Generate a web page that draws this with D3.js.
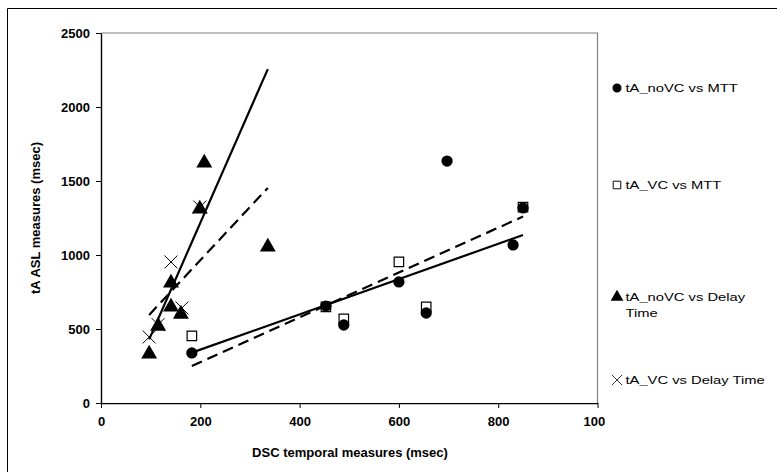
<!DOCTYPE html>
<html>
  <head>
    <meta charset="utf-8" />
    <title>tA ASL vs DSC</title>
    <style>
      body {
        margin: 0;
        background: #fff;
      }
      svg text {
        font-family: Arial, "Liberation Sans", sans-serif;
      }
    </style>
    <script src="https://d3js.org/d3.v7.min.js"></script>
  </head>
  <body>
    <div id="chart"></div>
    <script>
      // series values (x = DSC msec, y = tA ASL msec)
      var noVcMtt = [[183, 338], [453, 655], [489, 527], [600, 818], [655, 608], [697, 1635], [830, 1068], [850, 1318]];
      var vcMtt = [[183, 453], [453, 650], [489, 568], [600, 953], [655, 649], [850, 1324]];
      var noVcDelay = [[97, 331], [115, 520], [141, 649], [141, 811], [161, 601], [199, 1311], [208, 1622], [336, 1054]];
      var vcDelay = [[97, 446], [115, 530], [141, 953], [163, 642], [199, 1324]];

      // linear fits: [x from, x to, slope, intercept]
      var fitNoVcMtt = [183, 850, 1.192, 122];
      var fitVcMtt = [183, 850, 1.514, -27];
      var fitNoVcDelay = [97, 336, 7.64, -311];
      var fitVcDelay = [97, 336, 3.59, 247];

      var xTicks = [0, 200, 400, 600, 800, 1000];
      var yTicks = [0, 500, 1000, 1500, 2000, 2500];
      var legendNames = ["tA_noVC vs MTT", "tA_VC vs MTT", "tA_noVC vs Delay Time", "tA_VC vs Delay Time"];

      var W = 777, H = 472;
      var svg = d3.select("#chart").append("svg").attr("width", W).attr("height", H);

      // outer frame (cut by the window on the right and bottom)
      svg.append("path").attr("d", "M7.5," + H + "V8.5H" + W)
        .attr("fill", "none").attr("stroke", "#000").attr("stroke-width", 1);

      var x = d3.scaleLinear().domain([0, 1000]).range([101, 597.5]);
      var y = d3.scaleLinear().domain([0, 2500]).range([403, 33]);

      // plot area border (grey top/right)
      svg.append("path").attr("d", "M101," + y(2500) + "H" + x(1000) + "V" + y(0))
        .attr("fill", "none").attr("stroke", "#808080").attr("stroke-width", 1.2);

      svg.append("defs").append("clipPath").attr("id", "xclip")
        .append("rect").attr("x", 0).attr("y", 0).attr("width", 605).attr("height", H);

      var xAxis = svg.append("g").attr("transform", "translate(0,403)")
        .call(d3.axisBottom(x).tickValues(xTicks).tickFormat(d3.format("d"))
          .tickSize(5).tickPadding(9).tickSizeOuter(0));
      xAxis.attr("clip-path", "url(#xclip)");
      var yAxis = svg.append("g").attr("transform", "translate(101,0)")
        .call(d3.axisLeft(y).tickValues(yTicks).tickFormat(d3.format("d"))
          .tickSize(5).tickPadding(6).tickSizeOuter(0));

      [xAxis, yAxis].forEach(function (g) {
        g.attr("font-size", null).attr("font-family", null);
        g.select(".domain").attr("stroke", "#000").attr("stroke-width", 1.4);
        g.selectAll(".tick line").attr("stroke", "#000").attr("stroke-width", 1);
        g.selectAll(".tick text").attr("fill", "#000").style("font-size", "13px").style("font-weight", "bold");
      });

      svg.append("text").attr("x", 350).attr("y", 457).attr("text-anchor", "middle")
        .style("font-size", "13px").style("font-weight", "bold").text("DSC temporal measures (msec)");
      svg.append("text").attr("transform", "translate(40,218) rotate(-90)").attr("text-anchor", "middle")
        .style("font-size", "13px").style("font-weight", "bold").text("tA ASL measures (msec)");

      // trend lines
      function fitLine(f, dashed) {
        svg.append("line")
          .attr("x1", x(f[0])).attr("y1", y(f[2] * f[0] + f[3]))
          .attr("x2", x(f[1])).attr("y2", y(f[2] * f[1] + f[3]))
          .attr("stroke", "#000").attr("stroke-width", 2.2)
          .attr("stroke-dasharray", dashed ? "11,6" : null);
      }
      fitLine(fitVcMtt, true);
      fitLine(fitVcDelay, true);
      fitLine(fitNoVcMtt, false);
      fitLine(fitNoVcDelay, false);

      var sym = {
        square: d3.symbol().type(d3.symbolSquare).size(90),
        circle: d3.symbol().type(d3.symbolCircle).size(100),
        triangle: d3.symbol().type(d3.symbolTriangle).size(110),
        cross: d3.symbol().type(d3.symbolX).size(110)
      };
      function marker(g, kind) {
        if (kind === "square") {
          g.append("path").attr("d", sym.square()).attr("fill", "#fff").attr("stroke", "#000").attr("stroke-width", 1.2);
        } else if (kind === "cross") {
          g.append("path").attr("d", sym.cross()).attr("fill", "none").attr("stroke", "#000").attr("stroke-width", 1);
        } else {
          g.append("path").attr("d", sym[kind]()).attr("fill", "#000");
        }
      }
      function points(data, kind) {
        svg.append("g").selectAll("g").data(data).join("g")
          .attr("transform", function (d) { return "translate(" + x(d[0]) + "," + y(d[1]) + ")"; })
          .each(function () { marker(d3.select(this), kind); });
      }
      points(vcMtt, "square");
      points(noVcMtt, "circle");
      points(vcDelay, "cross");
      points(noVcDelay, "triangle");

      // legend
      var kinds = ["circle", "square", "triangle", "cross"];
      var legY = [88, 185, 297, 380];
      legendNames.forEach(function (name, i) {
        var g = svg.append("g").attr("transform", "translate(617," + legY[i] + ")");
        var m = g.append("g").attr("transform", "scale(0.8)");
        marker(m, kinds[i]);
        var lines = i === 2 ? ["tA_noVC vs Delay", "Time"] : [name];
        var t = g.append("text").attr("transform", "translate(8.5,0) scale(1.34,1)")
          .style("font-size", "11px");
        lines.forEach(function (s, j) {
          t.append("tspan").attr("x", 0).attr("dy", j === 0 ? "0.35em" : "1.45em").text(s);
        });
      });
    </script>
  </body>
</html>
